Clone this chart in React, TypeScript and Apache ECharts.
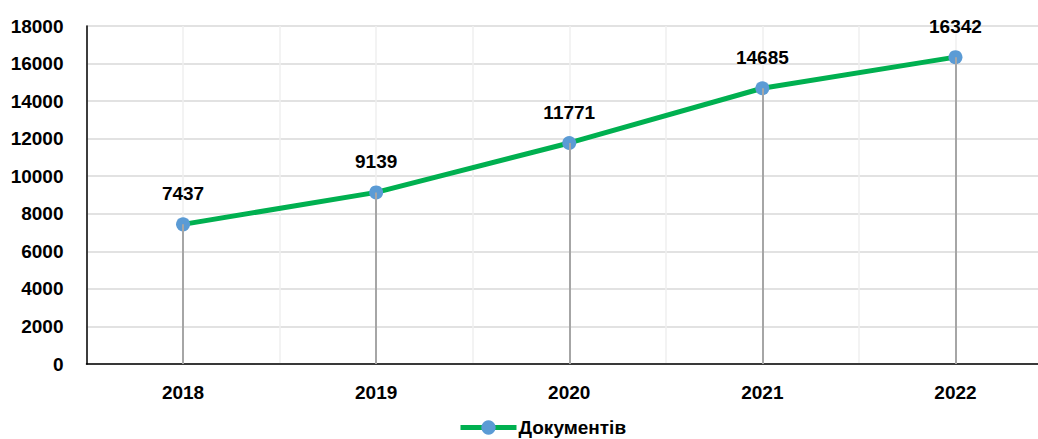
import React, { useEffect, useRef } from "react";
import * as echarts from "echarts";

const years = ["2018", "2019", "2020", "2021", "2022"];
const documents = [7437, 9139, 11771, 14685, 16342];
const seriesName = "Документів";

const FONT = "'Liberation Sans', Arial, sans-serif";

export default function App() {
  const ref = useRef<HTMLDivElement>(null);
  useEffect(() => {
    if (!ref.current) return;
    const chart = echarts.init(ref.current, null, { renderer: "svg" });
    const points = documents.map((v, i) => [i, v]);
    chart.setOption({
      animation: false,
      backgroundColor: "#ffffff",
      textStyle: { fontFamily: FONT },
      grid: { left: 86.5, right: 8, top: 26, bottom: 75, containLabel: false },
      legend: {
        data: [seriesName],
        left: 453,
        top: 413,
        itemWidth: 56,
        itemHeight: 18,
        itemGap: 4,
        lineStyle: { width: 5 },
        textStyle: { fontFamily: FONT, fontWeight: "bold", fontSize: 19, color: "#000", padding: [0, 0, 0, -3] },
      },
      xAxis: {
        type: "value",
        min: -0.5,
        max: 4.5,
        interval: 0.5,
        axisLine: { show: true, onZero: false, lineStyle: { color: "#000", width: 1.5 } },
        axisTick: { show: false },
        axisLabel: {
          margin: 19,
          fontFamily: FONT,
          fontWeight: "bold",
          fontSize: 19,
          color: "#000",
          showMinLabel: true,
          showMaxLabel: true,
          formatter: (v: number) => (Number.isInteger(v) && years[v] ? years[v] : ""),
        },
        splitLine: { show: true, lineStyle: { color: "#efefef", width: 1.5 } },
      },
      yAxis: {
        type: "value",
        min: 0,
        max: 18000,
        interval: 2000,
        axisLine: { show: true, onZero: false, lineStyle: { color: "#000", width: 1.5 } },
        axisTick: { show: false },
        axisLabel: {
          margin: 23,
          fontFamily: FONT,
          fontWeight: "bold",
          fontSize: 19,
          color: "#000",
          formatter: (v: number) => String(v),
        },
        splitLine: { show: true, lineStyle: { color: "#d9d9d9", width: 1.5 } },
      },
      series: [
        {
          name: seriesName,
          type: "line",
          data: points,
          symbol: "circle",
          symbolSize: 14,
          lineStyle: { color: "#00b050", width: 5 },
          itemStyle: { color: "#5b9bd5" },
          label: {
            show: true,
            position: "top",
            distance: 14,
            fontFamily: FONT,
            fontWeight: "bold",
            fontSize: 19,
            color: "#000",
            formatter: (p: any) => String(p.value[1]),
          },
          markLine: {
            silent: true,
            symbol: "none",
            label: { show: false },
            lineStyle: { color: "#a6a6a6", width: 2, type: "solid" },
            data: points.map((p) => [{ coord: [p[0], 0] }, { coord: [p[0], p[1]] }]),
          },
        },
      ],
    });
    return () => chart.dispose();
  }, []);
  return (
    <div style={{ position: "absolute", left: 0, top: 0, width: 1038, height: 439, overflow: "hidden", background: "#fff" }}>
      <div ref={ref} style={{ width: 1060, height: 439 }} />
    </div>
  );
}
